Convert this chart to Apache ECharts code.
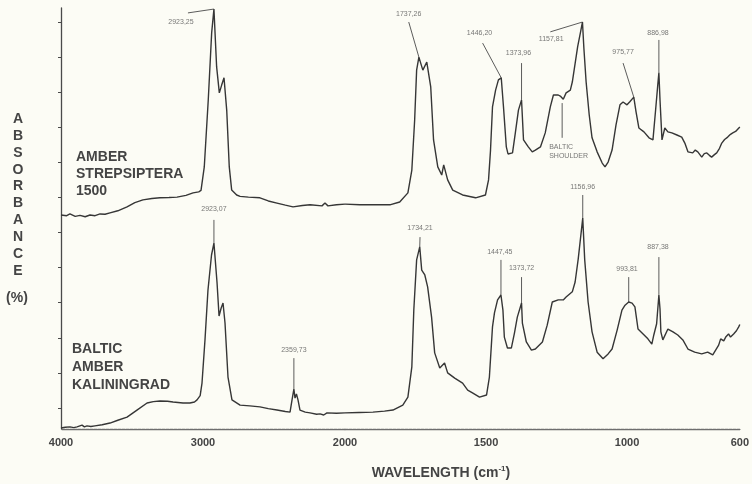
<!DOCTYPE html>
<html>
<head>
<meta charset="utf-8">
<script src="https://cdn.jsdelivr.net/npm/echarts@6/dist/echarts.min.js"></script>
<style>
  html, body { margin: 0; padding: 0; background: #fcfcf5; }
  #chart { width: 752px; height: 484px; }
</style>
</head>
<body>
<div id="chart"></div>
<script>
// FTIR spectra: [wavenumber (cm-1), absorbance (arbitrary units, traces offset)]
const strepsipteraSpectrum = [
  [4000,6.10],[3960,6.08],[3937,6.13],[3900,6.06],[3866,6.09],[3830,6.05],[3796,6.10],[3760,6.08],
  [3725,6.13],[3690,6.12],[3655,6.16],[3600,6.22],[3535,6.33],[3480,6.45],[3423,6.53],[3360,6.57],
  [3303,6.59],[3240,6.60],[3183,6.61],[3120,6.66],[3070,6.73],[3030,6.76],[3014,6.80],[2991,7.47],
  [2963,9.38],[2939,11.29],[2923,11.97],[2904,10.32],[2885,9.58],[2868,9.81],[2852,10.01],[2833,9.09],
  [2815,7.47],[2798,6.81],[2763,6.67],[2739,6.63],[2680,6.61],[2599,6.59],[2540,6.50],[2479,6.44],
  [2420,6.38],[2366,6.33],[2300,6.37],[2246,6.39],[2162,6.36],[2141,6.44],[2120,6.36],[2060,6.39],
  [2000,6.41],[1947,6.39],[1894,6.39],[1841,6.39],[1806,6.47],[1777,6.73],[1763,7.38],[1753,8.81],
  [1746,10.23],[1738,10.60],[1724,10.23],[1710,10.46],[1696,9.75],[1686,8.24],[1671,7.47],[1657,7.24],
  [1650,7.53],[1636,7.10],[1618,6.81],[1583,6.67],[1537,6.59],[1502,6.67],[1491,7.10],[1484,7.95],
  [1477,9.18],[1466,9.66],[1456,9.95],[1446,10.01],[1438,9.18],[1428,8.04],[1422,7.84],[1406,7.87],
  [1396,8.44],[1385,9.09],[1374,9.38],[1367,8.24],[1350,8.04],[1336,7.90],[1325,7.95],[1307,8.04],
  [1290,8.44],[1272,9.18],[1261,9.52],[1244,9.52],[1235,9.48],[1226,9.40],[1216,9.58],[1201,9.66],
  [1194,9.89],[1175,10.90],[1164,11.35],[1158,11.60],[1153,10.86],[1145,9.89],[1134,8.95],[1124,8.30],
  [1106,7.90],[1088,7.58],[1078,7.47],[1067,7.61],[1053,7.95],[1039,8.67],[1025,9.24],[1014,9.32],
  [1000,9.24],[990,9.33],[976,9.46],[968,9.04],[958,8.58],[940,8.47],[922,8.30],[908,8.24],
  [898,9.15],[891,9.80],[887,10.15],[883,9.38],[876,8.24],[866,8.58],[855,8.47],[841,8.44],
  [823,8.38],[806,8.32],[795,8.15],[784,7.90],[767,7.87],[758,7.95],[749,7.90],[735,7.75],
  [726,7.85],[717,7.87],[708,7.80],[700,7.75],[690,7.82],[682,7.87],[672,8.00],[664,8.15],
  [654,8.25],[643,8.32],[633,8.40],[625,8.44],[615,8.48],[608,8.52],[600,8.61]
];

const kaliningradSpectrum = [
  [4000,0.03],[3970,0.05],[3937,0.06],[3910,0.04],[3887,0.06],[3852,0.11],[3835,0.06],[3817,0.09],
  [3790,0.07],[3761,0.09],[3710,0.12],[3655,0.17],[3600,0.25],[3535,0.34],[3465,0.54],[3394,0.74],
  [3350,0.78],[3303,0.80],[3250,0.79],[3211,0.77],[3141,0.74],[3092,0.74],[3060,0.77],[3042,0.83],
  [3020,0.95],[3007,1.31],[2986,2.54],[2965,3.96],[2940,4.96],[2923,5.30],[2901,4.16],[2887,3.22],
  [2872,3.45],[2859,3.59],[2845,3.02],[2824,1.48],[2796,0.83],[2739,0.68],[2670,0.66],[2599,0.63],
  [2540,0.58],[2479,0.54],[2420,0.50],[2387,0.48],[2373,0.83],[2360,1.14],[2352,0.88],[2342,1.00],
  [2331,0.83],[2317,0.54],[2280,0.48],[2246,0.46],[2200,0.42],[2176,0.43],[2150,0.40],[2127,0.46],
  [2060,0.45],[2000,0.46],[1950,0.47],[1901,0.48],[1860,0.51],[1830,0.54],[1795,0.68],[1777,0.91],
  [1763,1.77],[1756,3.39],[1746,4.82],[1735,5.19],[1728,4.53],[1717,4.39],[1707,4.05],[1693,3.19],
  [1682,2.17],[1664,1.74],[1647,1.88],[1636,1.60],[1611,1.45],[1583,1.31],[1565,1.11],[1548,1.03],
  [1523,0.91],[1498,0.97],[1488,1.48],[1477,2.91],[1470,3.31],[1459,3.68],[1447,3.82],[1440,3.39],
  [1435,2.62],[1424,2.31],[1410,2.31],[1399,2.74],[1389,3.19],[1374,3.59],[1371,3.02],[1357,2.48],
  [1339,2.25],[1325,2.28],[1300,2.48],[1283,2.96],[1265,3.62],[1244,3.68],[1226,3.68],[1216,3.76],
  [1194,3.91],[1184,4.19],[1173,4.85],[1157,6.01],[1150,4.82],[1138,3.62],[1124,2.77],[1106,2.19],
  [1085,2.00],[1067,2.14],[1053,2.28],[1035,2.82],[1018,3.39],[1007,3.53],[994,3.62],[982,3.59],
  [972,3.48],[961,2.85],[943,2.71],[926,2.57],[912,2.42],[905,2.68],[895,3.00],[887,3.82],
  [883,3.42],[880,2.77],[873,2.54],[855,2.85],[837,2.77],[820,2.68],[802,2.54],[784,2.28],
  [760,2.19],[735,2.14],[714,2.19],[696,2.11],[675,2.39],[668,2.57],[657,2.51],[650,2.62],
  [640,2.71],[633,2.62],[622,2.71],[612,2.80],[604,2.91],[600,2.98]
];

// Peak annotations: text, text anchor, leader line (data coordinates)
const strepsipteraPeaks = [
  { text: '2923,25', at: [3155, 11.60], line: [[3106, 11.86], [2923, 11.97]] },
  { text: '1737,26', at: [1774, 11.83], line: [[1774, 11.60], [1738, 10.60]] },
  { text: '1446,20', at: [1523, 11.29], line: [[1512, 11.00], [1446, 10.01]] },
  { text: '1373,96', at: [1385, 10.72], line: [[1374, 10.43], [1374, 9.38]] },
  { text: '1157,81', at: [1269, 11.12], line: [[1272, 11.32], [1158, 11.60]] },
  { text: '975,77',  at: [1014, 10.75], line: [[1014, 10.43], [976, 9.46]] },
  { text: '886,98',  at: [890, 11.29],  line: [[887, 11.09], [887, 10.15]] }
];
const kaliningradPeaks = [
  { text: '2923,07', at: [2923, 6.27], line: [[2923, 5.96], [2923, 5.30]] },
  { text: '2359,73', at: [2360, 2.25], line: [[2360, 2.02], [2360, 1.14]] },
  { text: '1734,21', at: [1734, 5.73], line: [[1734, 5.47], [1735, 5.19]] },
  { text: '1447,45', at: [1451, 5.05], line: [[1447, 4.82], [1447, 3.82]] },
  { text: '1373,72', at: [1374, 4.59], line: [[1374, 4.33], [1374, 3.59]] },
  { text: '1156,96', at: [1157, 6.90], line: [[1157, 6.67], [1157, 6.01]] },
  { text: '993,81',  at: [1000, 4.56], line: [[994, 4.33], [994, 3.62]] },
  { text: '887,38',  at: [890, 5.19],  line: [[887, 4.90], [887, 3.82]] }
];
const balticShoulder = { text: 'BALTIC\nSHOULDER', at: [1276, 7.91], line: [[1230, 9.29], [1230, 8.30]] };

const highRangeTicks = [4000, 3000];
const lowRangeTicks = [2000, 1500, 1000, 600];
const absorbanceTicks = [0.6, 1.6, 2.6, 3.6, 4.6, 5.6, 6.6, 7.6, 8.6, 9.6, 10.6, 11.6];

// The wavenumber scale doubles below 2000 cm-1, so the plot uses two side-by-side grids.
const SPLIT = 2000;
const gridOf = x => (x > SPLIT ? 0 : 1);
const highPart = d => d.filter(p => p[0] >= SPLIT);
const lowPart = d => d.filter(p => p[0] <= SPLIT);

const INK = '#363636';
const FONT = '"Liberation Sans", Arial, sans-serif';

const series = [];
function addTrace(data) {
  [highPart(data), lowPart(data)].forEach((part, g) => {
    series.push({
      type: 'line', xAxisIndex: g, yAxisIndex: g, data: part,
      symbol: 'none', lineStyle: { color: INK, width: 1.4 }, z: 3, silent: true
    });
  });
}
addTrace(strepsipteraSpectrum);
addTrace(kaliningradSpectrum);

function addAnnotation(a, align) {
  const g = gridOf(a.at[0]);
  series.push({
    type: 'line', xAxisIndex: gridOf(a.line[1][0]), yAxisIndex: gridOf(a.line[1][0]),
    data: a.line, symbol: 'none', lineStyle: { color: '#4a4a4a', width: 0.9 }, z: 2, silent: true
  });
  series.push({
    type: 'scatter', xAxisIndex: g, yAxisIndex: g, symbolSize: 0, silent: true,
    data: [{ value: a.at, name: a.text }],
    label: {
      show: true, position: 'inside', formatter: '{b}', fontSize: 7, color: '#555',
      fontFamily: FONT, align: align || 'center', lineHeight: 9
    }
  });
}
strepsipteraPeaks.forEach(a => addAnnotation(a));
kaliningradPeaks.forEach(a => addAnnotation(a));
addAnnotation(balticShoulder, 'left');

const xAxisCommon = {
  type: 'value', inverse: true,
  axisLine: { show: true, onZero: false, lineStyle: { color: '#6e6e6e', width: 1.4, type: [3, 1] } },
  axisTick: { show: false },
  splitLine: { show: false },
  axisLabel: { fontSize: 11, fontWeight: 'bold', color: '#444', fontFamily: FONT, margin: 8,
    formatter: v => String(v) }
};

const option = {
  animation: false,
  backgroundColor: '#fcfcf5',
  grid: [
    { left: 61, top: 8, width: 284, bottom: 55 },
    { left: 345, top: 8, right: 11, bottom: 55 }
  ],
  xAxis: [
    Object.assign({}, xAxisCommon, { gridIndex: 0, min: SPLIT, max: 4000,
      axisLabel: Object.assign({}, xAxisCommon.axisLabel, { customValues: highRangeTicks }) }),
    Object.assign({}, xAxisCommon, { gridIndex: 1, min: 600, max: SPLIT,
      axisLabel: Object.assign({}, xAxisCommon.axisLabel, { customValues: lowRangeTicks }) })
  ],
  yAxis: [
    { type: 'value', gridIndex: 0, min: 0, max: 12,
      axisLine: { show: true, lineStyle: { color: '#4a4a4a', width: 1.3 } },
      axisTick: { show: true, length: 3, customValues: absorbanceTicks, lineStyle: { color: '#4a4a4a' } },
      axisLabel: { show: false }, splitLine: { show: false } },
    { type: 'value', gridIndex: 1, min: 0, max: 12, show: false, splitLine: { show: false } }
  ],
  graphic: [
    { type: 'text', x: 18, y: 110.5, style: { text: 'ABSORBANCE'.split('').join('\n'),
      font: 'bold 14px ' + FONT, fill: '#444', align: 'center', verticalAlign: 'top', lineHeight: 16.9 } },
    { type: 'text', x: 17, y: 298, style: { text: '(%)', font: 'bold 14px ' + FONT, fill: '#444',
      align: 'center', verticalAlign: 'middle' } },
    { type: 'text', x: 76, y: 148.5, style: { text: 'AMBER\nSTREPSIPTERA\n1500',
      font: 'bold 14px ' + FONT, fill: '#444', align: 'left', verticalAlign: 'top', lineHeight: 17 } },
    { type: 'text', x: 72, y: 340, style: { text: 'BALTIC\nAMBER\nKALININGRAD',
      font: 'bold 14px ' + FONT, fill: '#444', align: 'left', verticalAlign: 'top', lineHeight: 18 } },
    { type: 'text', x: 441, y: 473, style: {
      text: '{a|WAVELENGTH (cm}{s|-1}{a|)}', align: 'center', verticalAlign: 'middle',
      rich: {
        a: { fontSize: 14, fontWeight: 'bold', fontFamily: FONT, fill: '#444', color: '#444', lineHeight: 16 },
        s: { fontSize: 8, fontWeight: 'bold', fontFamily: FONT, fill: '#444', color: '#444', lineHeight: 16, padding: [0, 0, 8, 0] }
      } } }
  ],
  series: series
};

const chart = echarts.init(document.getElementById('chart'), null, { renderer: 'canvas' });
chart.setOption(option);
</script>
</body>
</html>
